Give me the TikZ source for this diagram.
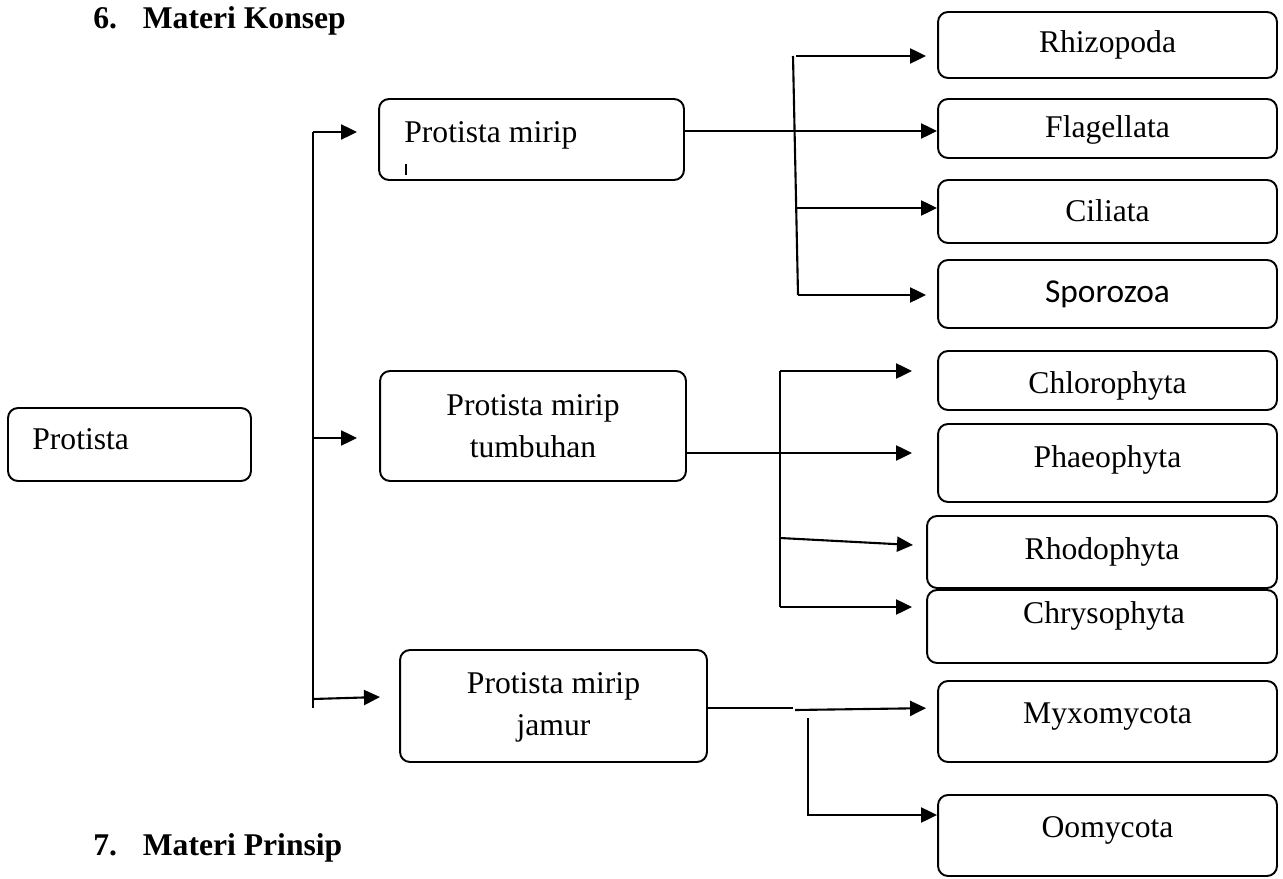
\documentclass[tikz,border=0pt]{standalone}
\usepackage{fontspec}
\setmainfont{Liberation Serif}
\newfontfamily\sansbox{Carlito}
\usetikzlibrary{arrows.meta}

\tikzset{
  kotak/.style={draw, rounded corners=0.2cm, line width=1.1pt, inner sep=0pt},
  garis/.style={line width=1.2pt},
  panah/.style={line width=1.2pt, -{Triangle[length=0.32cm,width=0.3cm]}},
  teks/.style={anchor=base, inner sep=0pt, font=\fontsize{18}{21}\selectfont},
  judul/.style={anchor=base west, inner sep=0pt, font=\fontsize{18}{21}\selectfont\bfseries}
}

\begin{document}
\begin{tikzpicture}[x=0.02cm, y=-0.02cm]
    \useasboundingbox (0,0) rectangle (1283,878);
    % Judul
    \node[judul] (judul6) at (93,29) {6.\hspace{14.7pt}Materi Konsep};
    \node[judul] (judul7) at (93,855) {7.\hspace{14.7pt}Materi Prinsip};
    % Kotak kiri dan tengah
    \node[kotak, minimum width=4.86cm, minimum height=1.46cm] (protista) at (129.5,444.5) {};
    \node[teks, anchor=base west] (tprotista) at (32,449) {Protista};
    \node[kotak, minimum width=6.10cm, minimum height=1.62cm] (hewan) at (531.5,139.5) {};
    \node[teks, anchor=base west] (thewan) at (404,143) {Protista mirip};
    \draw[line width=0.9pt] (406,164) -- (406,175);
    \node[kotak, minimum width=6.12cm, minimum height=2.20cm] (tumbuhan) at (533,426) {};
    \node[teks] (ttumbuhan1) at (533,415) {Protista mirip};
    \node[teks] (ttumbuhan2) at (533,457) {tumbuhan};
    \node[kotak, minimum width=6.14cm, minimum height=2.24cm] (jamur) at (553.5,706) {};
    \node[teks] (tjamur1) at (553.5,693) {Protista mirip};
    \node[teks] (tjamur2) at (553.5,735) {jamur};
    % Kotak kanan
    \node[kotak, minimum width=6.78cm, minimum height=1.32cm] (rhizopoda) at (1107.5,45) {};
    \node[teks] (trhizopoda) at (1107.5,53) {Rhizopoda};
    \node[kotak, minimum width=6.78cm, minimum height=1.18cm] (flagellata) at (1107.5,128.5) {};
    \node[teks] (tflagellata) at (1107.5,138) {Flagellata};
    \node[kotak, minimum width=6.78cm, minimum height=1.26cm] (ciliata) at (1107.5,211.5) {};
    \node[teks] (tciliata) at (1107.5,222) {Ciliata};
    \node[kotak, minimum width=6.78cm, minimum height=1.36cm] (sporozoa) at (1107.5,294) {};
    \node[teks, font=\fontsize{19}{22}\selectfont\sansbox] (tsporozoa) at (1107.5,302) {Sporozoa};
    \node[kotak, minimum width=6.78cm, minimum height=1.18cm] (chlorophyta) at (1107.5,380.5) {};
    \node[teks] (tchlorophyta) at (1107.5,393) {Chlorophyta};
    \node[kotak, minimum width=6.78cm, minimum height=1.56cm] (phaeophyta) at (1107.5,463) {};
    \node[teks] (tphaeophyta) at (1107.5,467) {Phaeophyta};
    \node[kotak, minimum width=7.00cm, minimum height=1.44cm] (rhodophyta) at (1102,552) {};
    \node[teks] (trhodophyta) at (1102,559) {Rhodophyta};
    \node[kotak, minimum width=7.00cm, minimum height=1.46cm] (chrysophyta) at (1102,626.5) {};
    \node[teks] (tchrysophyta) at (1104,623) {Chrysophyta};
    \node[kotak, minimum width=6.78cm, minimum height=1.62cm] (myxomycota) at (1107.5,721.5) {};
    \node[teks] (tmyxomycota) at (1107.5,723) {Myxomycota};
    \node[kotak, minimum width=6.78cm, minimum height=1.62cm] (oomycota) at (1107.5,835.5) {};
    \node[teks] (toomycota) at (1107.5,837) {Oomycota};
    % Batang utama
    \coordinate (t1) at (313,132);
    \coordinate (t2) at (313,438);
    \coordinate (t3) at (313,699);
    \coordinate (tb) at (313,708);
    \coordinate (c3) at (380,697);
    \draw[garis] (t1) -- (tb);
    \draw[panah, shorten >=0.42cm] (t1) -- (hewan.west |- t1);
    \draw[panah, shorten >=0.44cm] (t2) -- (tumbuhan.west |- t2);
    \draw[panah] (t3) -- (c3);
    % Cabang protista mirip hewan
    \coordinate (j1) at (796,56);
    \coordinate (j2) at (795,131);
    \coordinate (j3) at (796,208);
    \coordinate (j4) at (798,295);
    \draw[garis] (793,56) -- (j4);
    \draw[panah, shorten >=0.22cm] (j1) -- (rhizopoda.west |- j1);
    \draw[panah] (hewan.east |- j2) -- (flagellata.west |- j2);
    \draw[panah] (j3) -- (ciliata.west |- j3);
    \draw[panah, shorten >=0.22cm] (j4) -- (sporozoa.west |- j4);
    % Cabang protista mirip tumbuhan
    \coordinate (p1) at (780,371);
    \coordinate (p2) at (780,453);
    \coordinate (p3) at (780,538);
    \coordinate (p4) at (780,607);
    \coordinate (r3) at (913,545);
    \draw[garis] (p1) -- (p4);
    \draw[panah, shorten >=0.5cm] (p1) -- (chlorophyta.west |- p1);
    \draw[panah, shorten >=0.5cm] (tumbuhan.east |- p2) -- (phaeophyta.west |- p2);
    \draw[panah] (p3) -- (r3);
    \draw[panah, shorten >=0.28cm] (p4) -- (chrysophyta.west |- p4);
    % Cabang protista mirip jamur
    \coordinate (k1) at (793,708);
    \coordinate (k2) at (795,710);
    \coordinate (k3) at (808,718);
    \coordinate (k4) at (808,815);
    \draw[garis] (jamur.east |- k1) -- (k1);
    \draw[panah, shorten >=0.22cm] (k2) -- (myxomycota.west |- k1);
    \draw[panah] (k3) -- (k4) -- (oomycota.west |- k4);
\end{tikzpicture}
\end{document}
